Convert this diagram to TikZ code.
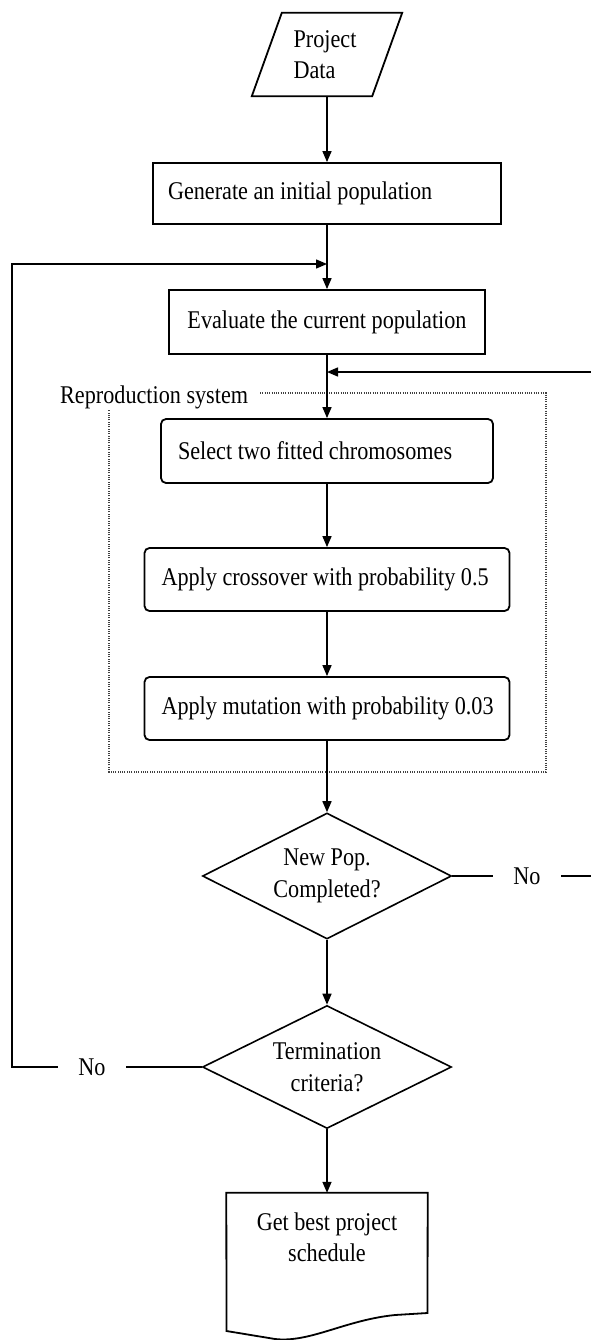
\documentclass[tikz,border=0pt]{standalone}
\usepackage{fontspec}
\setmainfont{Liberation Serif}[FakeStretch=0.87]
\usetikzlibrary{arrows.meta,shapes.geometric}

\begin{document}
\begin{tikzpicture}[x=1pt,y=-1pt,
  every node/.style={font=\fontsize{25.5}{31.5}\selectfont},
  rect/.style={draw, line width=1.8pt, inner xsep=0pt, inner ysep=0pt, align=flush left},
  rrect/.style={rect, rounded corners=5pt},
  dia/.style={draw, diamond, line width=1.6pt, aspect=2, inner sep=0pt, align=center},
  arr/.style={line width=1.5pt, -{Triangle[length=11pt,width=9pt]}},
  conn/.style={line width=1.5pt},
  lbl/.style={inner sep=0pt, minimum width=68pt, minimum height=30pt},
  dotbox/.style={line width=1.2pt, black!75, dash pattern=on 1pt off 1.3pt}
]
\useasboundingbox (0,0) rectangle (591,1340);
\clip (0,0) rectangle (591,1340);

% input
\node[inner sep=0pt, minimum width=120pt, minimum height=83pt, align=flush left] (pd) at (325,54.5) {Project\\Data};
\draw[line width=1.8pt] ([xshift=17pt]pd.north west) -- ([xshift=17pt]pd.north east)
  -- ([xshift=-13pt]pd.south east) -- ([xshift=-13pt]pd.south west) -- cycle;

% process boxes
\node[rect, minimum width=348pt, minimum height=61pt, text width=318pt] (gen) at (327,193.5) {\mbox{Generate an initial population}};
\node[rect, align=center, minimum width=316pt, minimum height=64pt] (eval) at (327,322) {Evaluate the current population};

% reproduction system frame
\draw[dotbox] (260,393) -- (546,393) -- (546,772) -- (109,772) -- (109,410);
\node[anchor=west, inner sep=0pt] (rs) at (60,397) {Reproduction system};

\node[rrect, minimum width=332pt, minimum height=64pt, text width=298pt] (sel) at (327,451) {\mbox{Select two fitted chromosomes}};
\node[rrect, minimum width=365pt, minimum height=63pt, text width=331pt] (cross) at (327,579.5) {\mbox{Apply crossover with probability 0.5}};
\node[rrect, minimum width=365pt, minimum height=63pt, text width=331pt] (mut) at (327,708.5) {\mbox{Apply mutation with probability 0.03}};

% decisions
\node[dia, minimum width=249pt, minimum height=126pt] (np) at (327,876) {New Pop.\\Completed?};
\node[dia, minimum width=249pt, minimum height=123pt] (term) at (327,1067) {Termination\\criteria?};

% document
\node[inner sep=0pt, minimum width=201pt, minimum height=89pt, align=center] (doc) at (327,1237.5) {Get best project\\schedule};
\draw[line width=1.8pt] (doc.north west) -- (doc.north east) -- (427.5,1313) -- (395,1315)
  .. controls (345,1320) and (310,1343) .. (275,1339) -- (226.5,1331) -- cycle;

% labels
\node[lbl] (no1) at (92,1067) {No};
\node[lbl] (no2) at (527,876) {No};

% junctions
\coordinate (j1) at (327,264);
\coordinate (j2) at (327,372);

% main flow
\draw[arr] (pd.south -| gen.north) -- (gen.north);
\draw[arr] (gen.south) -- (eval.north);
\draw[arr] (eval.south) -- (sel.north);
\draw[arr] (sel.south) -- (cross.north);
\draw[arr] (cross.south) -- (mut.north);
\draw[arr] (mut.south) -- (np.north);
\draw[arr] (np.south) -- (term.north);
\draw[arr] (term.south) -- (doc.north);

% loops
\draw[conn] (np.east) -- (no2.west);
\draw[arr] (no2.east) -- (596,876) -- (596,372) -- (j2);
\draw[conn] (term.west) -- (no1.east);
\draw[arr] (no1.west) -- (12,1067) -- (12,264) -- (j1);
\end{tikzpicture}
\end{document}
